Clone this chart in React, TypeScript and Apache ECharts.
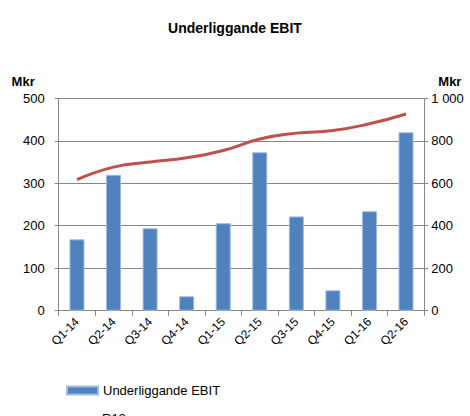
import React, { useEffect, useRef } from "react";
import * as echarts from "echarts";

const categories = ["Q1-14", "Q2-14", "Q3-14", "Q4-14", "Q1-15", "Q2-15", "Q3-15", "Q4-15", "Q1-16", "Q2-16"];
const ebitValues = [168, 320, 194, 34, 206, 373, 222, 48, 234, 420];
const r12Values = [617, 676, 700, 720, 754, 808, 836, 848, 880, 926];
const leftTicks = { min: 0, max: 500, interval: 100 };
const rightTicks = { min: 0, max: 1000, interval: 200 };

const FONT = "Liberation Sans";

export default function App() {
  const ref = useRef<HTMLDivElement>(null);
  useEffect(() => {
    if (!ref.current) return;
    const chart = echarts.init(ref.current, undefined, { renderer: "svg" });
    chart.setOption({
      animation: false,
      textStyle: { fontFamily: FONT, color: "#000" },
      title: {
        text: "Underliggande EBIT",
        left: "center",
        top: 16,
        textStyle: { fontFamily: FONT, fontSize: 14, fontWeight: "bold", color: "#000" },
      },
      legend: [
        {
          orient: "vertical",
          left: 61,
          top: 379,
          itemWidth: 31,
          itemHeight: 8,
          textStyle: { fontFamily: FONT, fontSize: 13, color: "#000" },
          data: [{ name: "Underliggande EBIT", icon: "rect" }],
        },
        {
          orient: "vertical",
          left: 61,
          top: 407,
          itemWidth: 31,
          itemHeight: 3,
          textStyle: { fontFamily: FONT, fontSize: 13, color: "#000" },
          data: [{ name: "R12", icon: "rect" }],
        },
      ],
      grid: { left: 58.7, right: 45.7, top: 98.3, bottom: 105.3, containLabel: false },
      xAxis: {
        type: "category",
        data: categories,
        boundaryGap: true,
        axisLine: { lineStyle: { color: "#868686", width: 1 } },
        axisTick: { show: true, length: 5, lineStyle: { color: "#868686" } },
        axisLabel: { rotate: 45, fontSize: 12, color: "#000", margin: 9, fontFamily: FONT },
      },
      yAxis: [
        {
          type: "value",
          ...leftTicks,
          name: "Mkr",
          nameLocation: "end",
          nameGap: 10,
          nameTextStyle: { fontFamily: FONT, fontWeight: "bold", fontSize: 13, color: "#000", align: "right", padding: [0, 24, 0, 0] },
          axisLine: { show: true, lineStyle: { color: "#868686" } },
          axisTick: { show: true, length: 4, lineStyle: { color: "#868686" } },
          axisLabel: { fontSize: 13, color: "#000", margin: 14, fontFamily: FONT },
          splitLine: { show: true, lineStyle: { color: "#868686", width: 1 } },
        },
        {
          type: "value",
          ...rightTicks,
          name: "Mkr",
          nameLocation: "end",
          nameGap: 10,
          nameTextStyle: { fontFamily: FONT, fontWeight: "bold", fontSize: 13, color: "#000", align: "left", padding: [0, 0, 0, 14] },
          axisLine: { show: true, lineStyle: { color: "#868686" } },
          axisTick: { show: true, length: 4, lineStyle: { color: "#868686" } },
          axisLabel: {
            fontSize: 13,
            color: "#000",
            margin: 7,
            fontFamily: FONT,
            formatter: (v: number) => String(v).replace(/\B(?=(\d{3})+(?!\d))/g, " "),
          },
          splitLine: { show: false },
        },
      ],
      series: [
        {
          name: "Underliggande EBIT",
          type: "bar",
          yAxisIndex: 0,
          data: ebitValues,
          barWidth: 15,
          itemStyle: { color: "#4F81BD", borderColor: "#9fbbe0", borderWidth: 1 },
        },
        {
          name: "R12",
          type: "line",
          yAxisIndex: 1,
          data: r12Values,
          smooth: true,
          symbol: "none",
          lineStyle: { color: "#C0504D", width: 3 },
          itemStyle: { color: "#C0504D" },
        },
      ],
    });
    return () => chart.dispose();
  }, []);
  return <div ref={ref} style={{ width: 470, height: 416, position: "absolute", left: 0, top: 0 }} />;
}
